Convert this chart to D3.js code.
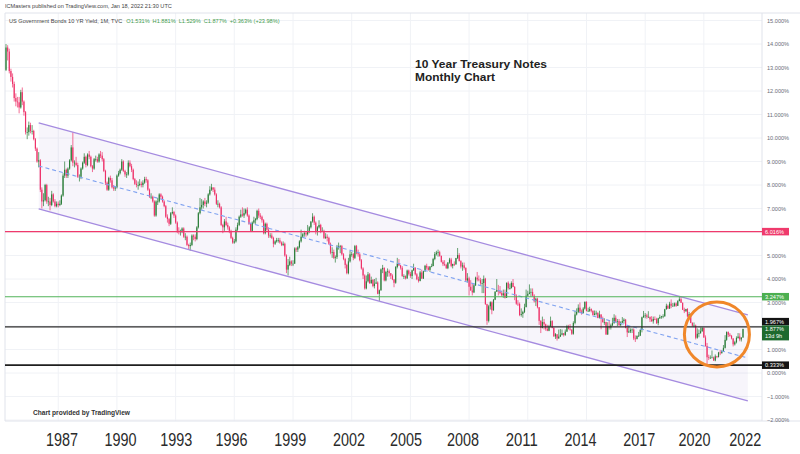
<!DOCTYPE html>
<html lang="en">
<head>
  <meta charset="UTF-8">
  <title>10 Year Treasury Notes - Monthly Chart</title>
  <script src="https://d3js.org/d3.v7.min.js"></script>
  <style>
    body { margin: 0; background: #fff; }
    svg { display: block; }
  </style>
</head>
<body>
  <svg id="chart"></svg>
  <script>
    // monthly bars of the 10Y yield, first bar = May 1984
    // open of each bar is taken as the previous close
    const startMonth = "1984-05";
    const firstOpen = 12.90;

    const closes = [
      /*1984*/ 13.85,13.68,12.85,12.60,12.30,11.70,11.55,11.52,
      /*1985*/ 11.30,11.95,11.55,11.10,10.25,10.25,10.55,10.30,10.30,9.95,9.55,9.00,
      /*1986*/ 9.05,7.80,7.30,7.35,8.00,7.30,7.30,7.15,7.60,7.30,7.10,7.20,
      /*1987*/ 7.15,7.20,7.55,8.40,8.65,8.40,8.70,9.05,9.60,8.95,8.95,8.85,
      /*1988*/ 8.35,8.35,8.70,8.95,9.20,8.85,9.30,9.20,8.80,8.70,9.10,9.10,
      /*1989*/ 9.00,9.30,9.25,9.10,8.60,8.10,7.80,8.30,8.20,7.90,7.85,7.90,
      /*1990*/ 8.40,8.50,8.65,9.00,8.60,8.45,8.45,8.95,8.80,8.65,8.25,8.05,
      /*1991*/ 8.00,8.00,8.05,8.00,8.10,8.25,8.20,7.80,7.50,7.50,7.30,6.70,
      /*1992*/ 7.30,7.30,7.60,7.50,7.30,7.10,6.65,6.55,6.35,6.80,6.85,6.70,
      /*1993*/ 6.40,6.05,6.00,6.05,6.15,5.80,5.80,5.45,5.40,5.45,5.85,5.80,
      /*1994*/ 5.70,6.20,6.80,7.05,7.15,7.30,7.20,7.25,7.60,7.80,7.90,7.80,
      /*1995*/ 7.60,7.20,7.20,7.05,6.30,6.20,6.45,6.30,6.20,6.05,5.75,5.55,
      /*1996*/ 5.60,6.10,6.30,6.65,6.75,6.70,6.80,6.95,6.70,6.35,6.05,6.40,
      /*1997*/ 6.50,6.55,6.90,6.70,6.65,6.50,5.95,6.35,6.10,5.85,5.85,5.75,
      /*1998*/ 5.50,5.60,5.65,5.65,5.55,5.45,5.50,5.00,4.40,4.60,4.75,4.65,
      /*1999*/ 4.65,5.30,5.25,5.35,5.60,5.80,5.90,5.95,5.90,6.05,6.20,6.45,
      /*2000*/ 6.65,6.40,6.00,6.20,6.30,6.05,6.05,5.75,5.80,5.75,5.50,5.12,
      /*2001*/ 5.15,4.90,4.93,5.35,5.40,5.40,5.05,4.85,4.60,4.25,4.75,5.05,
      /*2002*/ 5.05,4.90,5.40,5.10,5.05,4.80,4.45,4.15,3.60,3.90,4.20,3.82,
      /*2003*/ 3.96,3.70,3.80,3.85,3.37,3.52,4.41,4.47,3.94,4.30,4.33,4.25,
      /*2004*/ 4.14,3.98,3.84,4.51,4.65,4.58,4.48,4.12,4.12,4.03,4.36,4.22,
      /*2005*/ 4.13,4.37,4.48,4.20,3.99,3.92,4.28,4.02,4.33,4.56,4.49,4.39,
      /*2006*/ 4.53,4.55,4.85,5.06,5.12,5.14,4.98,4.73,4.63,4.60,4.46,4.70,
      /*2007*/ 4.83,4.56,4.64,4.63,4.89,5.02,4.76,4.53,4.58,4.47,3.94,4.03,
      /*2008*/ 3.67,3.51,3.43,3.73,4.06,3.98,3.95,3.82,3.83,4.01,2.93,2.22,
      /*2009*/ 2.84,3.01,2.67,3.12,3.46,3.53,3.48,3.40,3.31,3.39,3.20,3.84,
      /*2010*/ 3.61,3.61,3.83,3.66,3.29,2.95,2.94,2.47,2.51,2.60,2.80,3.29,
      /*2011*/ 3.37,3.42,3.45,3.29,3.05,3.16,2.80,2.22,1.92,2.17,2.07,1.88,
      /*2012*/ 1.80,1.98,2.21,1.92,1.56,1.65,1.47,1.55,1.63,1.69,1.62,1.76,
      /*2013*/ 1.99,1.88,1.85,1.67,2.13,2.49,2.60,2.78,2.61,2.55,2.74,3.03,
      /*2014*/ 2.64,2.65,2.72,2.65,2.47,2.53,2.56,2.34,2.49,2.33,2.16,2.17,
      /*2015*/ 1.64,1.99,1.93,2.03,2.12,2.35,2.18,2.21,2.04,2.14,2.21,2.27,
      /*2016*/ 1.92,1.73,1.77,1.83,1.85,1.47,1.45,1.58,1.59,1.83,2.37,2.44,
      /*2017*/ 2.45,2.39,2.39,2.28,2.20,2.30,2.29,2.12,2.33,2.38,2.41,2.41,
      /*2018*/ 2.71,2.86,2.74,2.95,2.86,2.86,2.96,2.86,3.06,3.14,2.99,2.69,
      /*2019*/ 2.63,2.72,2.41,2.51,2.13,2.01,2.02,1.50,1.67,1.69,1.78,1.92,
      /*2020*/ 1.51,1.15,0.67,0.64,0.65,0.66,0.53,0.71,0.68,0.87,0.84,0.92,
      /*2021*/ 1.07,1.41,1.74,1.63,1.58,1.47,1.22,1.31,1.49,1.55,1.43,1.51,
      /*2022*/ 1.877
    ];

    const highs = [
      /*1984*/ 14.00,13.95,13.80,12.95,12.75,12.40,11.90,11.75,
      /*1985*/ 11.75,12.05,12.15,11.60,11.15,10.45,10.70,10.65,10.55,10.35,10.00,9.60,
      /*1986*/ 9.40,9.10,7.90,7.65,8.05,8.05,7.50,7.45,7.75,7.65,7.40,7.30,
      /*1987*/ 7.30,7.35,7.60,8.50,9.00,8.70,8.75,9.10,9.70,10.25,9.05,9.20,
      /*1988*/ 8.95,8.45,8.75,9.00,9.35,9.25,9.35,9.45,9.25,8.85,9.15,9.25,
      /*1989*/ 9.20,9.35,9.45,9.40,9.15,8.65,8.15,8.35,8.40,8.30,8.00,7.95,
      /*1990*/ 8.45,8.60,8.70,9.10,9.05,8.65,8.55,9.05,9.05,8.90,8.70,8.30,
      /*1991*/ 8.20,8.15,8.25,8.15,8.20,8.35,8.35,8.25,7.85,7.65,7.55,7.35,
      /*1992*/ 7.35,7.45,7.65,7.65,7.55,7.35,7.15,6.75,6.60,6.85,7.05,6.90,
      /*1993*/ 6.75,6.45,6.20,6.10,6.20,6.20,5.95,5.85,5.50,5.55,5.90,5.90,
      /*1994*/ 5.90,6.25,6.85,7.45,7.40,7.35,7.45,7.35,7.65,7.95,8.05,7.90,
      /*1995*/ 7.90,7.65,7.35,7.25,7.10,6.35,6.55,6.65,6.40,6.25,6.10,5.80,
      /*1996*/ 5.70,6.20,6.40,6.70,6.95,7.05,7.00,7.00,7.05,6.75,6.40,6.45,
      /*1997*/ 6.65,6.60,6.95,7.00,6.80,6.70,6.55,6.40,6.40,6.20,5.95,5.95,
      /*1998*/ 5.80,5.65,5.75,5.75,5.75,5.60,5.60,5.55,5.05,4.85,4.95,4.80,
      /*1999*/ 4.80,5.35,5.35,5.40,5.65,6.10,5.95,6.05,6.00,6.30,6.25,6.45,
      /*2000*/ 6.80,6.70,6.45,6.25,6.50,6.35,6.20,6.10,5.95,5.90,5.80,5.55,
      /*2001*/ 5.35,5.25,5.00,5.45,5.55,5.45,5.45,5.10,4.90,4.65,4.90,5.20,
      /*2002*/ 5.15,5.10,5.45,5.45,5.25,5.10,4.85,4.50,4.20,4.15,4.30,4.25,
      /*2003*/ 4.10,4.00,4.00,4.05,3.90,3.55,4.45,4.60,4.50,4.35,4.45,4.40,
      /*2004*/ 4.25,4.20,4.00,4.55,4.90,4.85,4.60,4.55,4.20,4.15,4.40,4.40,
      /*2005*/ 4.30,4.40,4.65,4.50,4.25,4.10,4.35,4.40,4.35,4.60,4.65,4.55,
      /*2006*/ 4.55,4.65,4.90,5.15,5.20,5.25,5.20,5.00,4.80,4.80,4.65,4.72,
      /*2007*/ 4.90,4.90,4.65,4.75,4.90,5.32,5.10,4.80,4.70,4.70,4.50,4.25,
      /*2008*/ 4.10,3.95,3.80,3.80,4.10,4.30,4.15,4.05,4.00,4.15,4.05,2.95,
      /*2009*/ 2.90,3.05,3.05,3.15,3.48,4.00,3.75,3.70,3.50,3.55,3.55,3.85,
      /*2010*/ 3.90,3.80,3.90,4.00,3.70,3.35,3.10,3.00,2.75,2.65,2.95,3.55,
      /*2011*/ 3.50,3.77,3.60,3.60,3.35,3.20,3.20,2.80,2.25,2.40,2.30,2.10,
      /*2012*/ 2.05,2.05,2.40,2.25,1.95,1.70,1.65,1.85,1.87,1.85,1.70,1.85,
      /*2013*/ 2.05,2.05,2.08,1.85,2.20,2.65,2.75,2.92,3.00,2.70,2.80,3.04,
      /*2014*/ 3.05,2.78,2.82,2.75,2.66,2.66,2.65,2.58,2.65,2.50,2.40,2.33,
      /*2015*/ 2.18,2.16,2.25,2.10,2.35,2.50,2.45,2.30,2.30,2.20,2.38,2.33,
      /*2016*/ 2.30,2.00,2.00,1.90,1.90,1.90,1.60,1.60,1.75,1.87,2.40,2.64,
      /*2017*/ 2.55,2.52,2.63,2.40,2.42,2.40,2.41,2.35,2.35,2.48,2.43,2.50,
      /*2018*/ 2.73,2.95,2.91,3.03,3.13,2.98,3.00,3.00,3.10,3.25,3.24,3.00,
      /*2019*/ 2.78,2.73,2.76,2.60,2.54,2.16,2.15,2.06,1.90,1.85,1.94,1.95,
      /*2020*/ 1.94,1.60,1.28,0.78,0.75,0.96,0.70,0.79,0.73,0.90,0.98,0.97,
      /*2021*/ 1.19,1.61,1.77,1.77,1.70,1.62,1.48,1.37,1.56,1.70,1.69,1.52,
      /*2022*/ 1.881
    ];

    const lows = [
      /*1984*/ 12.85,13.30,12.75,12.40,12.15,11.55,11.35,11.30,
      /*1985*/ 11.05,11.25,11.40,10.95,10.15,9.95,10.10,10.20,10.15,9.90,9.45,8.95,
      /*1986*/ 8.75,7.70,7.00,7.10,7.30,7.20,7.10,6.92,7.10,7.25,7.05,7.05,
      /*1987*/ 7.05,7.10,7.15,7.50,8.30,8.30,8.30,8.65,9.00,8.80,8.75,8.80,
      /*1988*/ 8.30,8.15,8.25,8.65,8.90,8.75,8.80,9.10,8.75,8.55,8.65,9.00,
      /*1989*/ 8.95,8.95,9.15,9.00,8.55,8.00,7.75,7.75,8.10,7.85,7.75,7.75,
      /*1990*/ 7.85,8.35,8.45,8.60,8.55,8.35,8.30,8.40,8.75,8.55,8.20,8.00,
      /*1991*/ 7.90,7.80,7.95,7.90,7.90,8.05,8.10,7.75,7.45,7.40,7.25,6.65,
      /*1992*/ 6.65,7.15,7.25,7.40,7.25,7.05,6.60,6.40,6.25,6.30,6.75,6.60,
      /*1993*/ 6.35,5.95,5.90,5.85,5.95,5.75,5.65,5.40,5.25,5.20,5.40,5.65,
      /*1994*/ 5.60,5.65,6.15,6.75,6.95,7.00,7.10,7.05,7.20,7.55,7.75,7.70,
      /*1995*/ 7.55,7.15,7.05,7.00,6.25,5.95,6.05,6.25,6.10,5.95,5.70,5.50,
      /*1996*/ 5.50,5.55,6.05,6.25,6.60,6.65,6.60,6.75,6.65,6.30,6.00,6.00,
      /*1997*/ 6.35,6.35,6.50,6.60,6.55,6.40,5.90,5.90,6.05,5.75,5.75,5.70,
      /*1998*/ 5.35,5.45,5.55,5.55,5.50,5.40,5.40,4.95,4.25,4.15,4.55,4.55,
      /*1999*/ 4.55,4.65,5.15,5.15,5.30,5.55,5.75,5.80,5.80,5.85,5.95,6.15,
      /*2000*/ 6.40,6.30,5.90,5.85,6.15,5.95,6.00,5.70,5.70,5.60,5.45,5.05,
      /*2001*/ 4.90,4.85,4.70,4.85,5.25,5.10,5.00,4.80,4.45,4.20,4.20,4.70,
      /*2002*/ 4.95,4.80,4.85,5.05,4.95,4.75,4.40,4.00,3.55,3.56,3.85,3.80,
      /*2003*/ 3.80,3.65,3.60,3.80,3.35,3.07,3.50,4.25,3.90,3.90,4.10,4.10,
      /*2004*/ 4.00,3.95,3.65,3.80,4.45,4.55,4.40,4.10,4.00,3.98,4.00,4.15,
      /*2005*/ 4.05,4.00,4.35,4.15,3.95,3.85,3.90,4.00,4.00,4.30,4.40,4.35,
      /*2006*/ 4.30,4.50,4.55,4.80,5.00,4.95,4.95,4.70,4.55,4.55,4.43,4.42,
      /*2007*/ 4.65,4.50,4.45,4.55,4.60,4.85,4.75,4.45,4.35,4.40,3.90,3.85,
      /*2008*/ 3.30,3.50,3.30,3.40,3.70,3.90,3.90,3.75,3.40,3.40,2.90,2.05,
      /*2009*/ 2.15,2.70,2.50,2.65,3.10,3.45,3.30,3.35,3.25,3.20,3.17,3.20,
      /*2010*/ 3.55,3.55,3.60,3.65,3.10,2.90,2.85,2.42,2.40,2.35,2.55,2.80,
      /*2011*/ 3.25,3.35,3.25,3.25,3.00,2.85,2.75,2.05,1.70,1.90,1.85,1.80,
      /*2012*/ 1.78,1.78,1.95,1.90,1.54,1.45,1.38,1.46,1.53,1.60,1.55,1.58,
      /*2013*/ 1.75,1.85,1.80,1.62,1.63,2.07,2.45,2.55,2.55,2.48,2.53,2.70,
      /*2014*/ 2.62,2.60,2.60,2.58,2.44,2.45,2.45,2.33,2.32,1.86,2.15,2.05,
      /*2015*/ 1.62,1.62,1.85,1.85,2.00,2.10,2.15,2.00,2.00,1.99,2.13,2.10,
      /*2016*/ 1.90,1.53,1.70,1.70,1.70,1.40,1.32,1.43,1.53,1.57,1.73,2.35,
      /*2017*/ 2.33,2.31,2.35,2.17,2.18,2.10,2.25,2.09,2.03,2.30,2.31,2.33,
      /*2018*/ 2.40,2.70,2.73,2.73,2.76,2.82,2.82,2.81,2.85,3.05,2.98,2.68,
      /*2019*/ 2.55,2.60,2.37,2.40,2.12,1.97,1.95,1.43,1.46,1.52,1.68,1.75,
      /*2020*/ 1.50,1.12,0.34,0.55,0.60,0.63,0.52,0.50,0.63,0.66,0.76,0.83,
      /*2021*/ 0.90,1.04,1.37,1.53,1.54,1.43,1.13,1.17,1.26,1.46,1.35,1.34,
      /*2022*/ 1.50
    ];

    // price scale ticks (percent) and pasted year labels under the chart
    const yTicks = [15, 14, 13, 12, 11, 10, 9, 8, 7, 6, 5, 4, 3, 2, 1, 0, -1, -2];
    const xTickLabels = ["1987", "1990", "1993", "1996", "1999", "2002", "2005",
                         "2008", "2011", "2014", "2017", "2020", "2022"];
    const xTickDates = ["1987-03", "1990-03", "1993-01", "1995-11", "1998-11", "2001-11", "2004-10",
                        "2007-09", "2010-09", "2013-09", "2016-09", "2019-07", "2022-02"];

    // horizontal levels drawn by the author
    const levelValues = [6.016, 3.247, 1.967, 0.333];
    const currentPrice = 1.877;
    const countdown = "13d 9h";

    // regression channel
    const channelDates = ["1986-01", "2022-04"];
    const channelUpper = [10.64, 2.47];
    const channelLower = [6.98, -1.19];

    // orange circle around the 2020-2021 lows
    const circleMonth = "2020-09";
    const circleValue = 1.64;
    const circleMonths = 20;
    const circleRange = 1.38;

    const headerText = "ICMasters published on TradingView.com, Jan 18, 2022 21:30 UTC";
    const symbolText = "US Government Bonds 10 YR Yield, 1M, TVC";
    const ohlcText = ["O1.531%", "H1.881%", "L1.529%", "C1.877%", "+0.363% (+23.98%)"];
    const titleLines = ["10 Year Treasury Notes", "Monthly Chart"];
    const creditText = "Chart provided by TradingView";

    // ---------------------------------------------------------------
    const width = 800, height = 454;
    const pane = {left: 5, top: 13, right: 762, bottom: 421};
    const upColor = "#2a7d38", downColor = "#ee3068";
    const gridColor = "#f0f2f6", borderColor = "#e0e3eb";
    const font = "'Liberation Sans', Arial, sans-serif";

    const parseMonth = d3.timeParse("%Y-%m");
    const months = closes.map((c, i) => d3.timeMonth.offset(parseMonth(startMonth), i));
    const candles = closes.map((c, i) => ({
      date: months[i],
      open: i ? closes[i - 1] : firstOpen,
      high: highs[i],
      low: lows[i],
      close: c
    }));

    const x = d3.scaleTime()
      .domain(d3.extent(months))
      .range([6, 743]);

    const y = d3.scaleLinear()
      .domain([-2, 15.32])
      .range([pane.bottom - 1, pane.top]);

    const svg = d3.select('#chart')
      .attr('width', width)
      .attr('height', height)
      .style('font-family', font);

    svg.append('defs').append('clipPath').attr('id', 'pane')
      .append('rect')
      .attr('x', pane.left).attr('y', pane.top)
      .attr('width', pane.right - pane.left).attr('height', pane.bottom - pane.top);

    // grid
    const grid = svg.append('g');
    grid.selectAll('.hgrid')
      .data(yTicks.filter(d => y(d) > pane.top && y(d) < pane.bottom))
      .join('line')
      .attr('x1', pane.left).attr('x2', pane.right)
      .attr('y1', d => y(d)).attr('y2', d => y(d))
      .attr('stroke', gridColor);

    const gridYears = x.ticks(d3.timeYear.every(1)).filter(d => d.getFullYear() % 3 === 1);
    grid.selectAll('.vgrid')
      .data(gridYears)
      .join('line')
      .attr('x1', d => x(d)).attr('x2', d => x(d))
      .attr('y1', pane.top).attr('y2', pane.bottom)
      .attr('stroke', gridColor);

    // pane borders
    const borders = [
      [pane.left, pane.top, width, pane.top],
      [pane.left, pane.bottom, width, pane.bottom],
      [pane.left, pane.top, pane.left, pane.bottom],
      [pane.right, pane.top, pane.right, pane.bottom]
    ];
    svg.append('g').selectAll('line')
      .data(borders)
      .join('line')
      .attr('x1', d => d[0]).attr('y1', d => d[1])
      .attr('x2', d => d[2]).attr('y2', d => d[3])
      .attr('stroke', borderColor);

    const plot = svg.append('g').attr('clip-path', 'url(#pane)');

    // channel
    const channel = channelDates.map((d, i) => ({
      date: parseMonth(d),
      upper: channelUpper[i],
      lower: channelLower[i],
      mid: (channelUpper[i] + channelLower[i]) / 2
    }));

    plot.append('path')
      .datum(channel)
      .attr('d', d3.area().x(d => x(d.date)).y0(d => y(d.lower)).y1(d => y(d.upper)))
      .attr('fill', '#7e57c2')
      .attr('fill-opacity', 0.06);

    // candles
    const bodyW = 1.15;
    const candleG = plot.append('g');
    candleG.selectAll('line')
      .data(candles)
      .join('line')
      .attr('x1', d => x(d.date)).attr('x2', d => x(d.date))
      .attr('y1', d => y(d.high)).attr('y2', d => y(d.low))
      .attr('stroke', d => d.close >= d.open ? upColor : downColor)
      .attr('stroke-width', 0.7);

    candleG.selectAll('rect')
      .data(candles)
      .join('rect')
      .attr('x', d => x(d.date) - bodyW / 2)
      .attr('width', bodyW)
      .attr('y', d => y(Math.max(d.open, d.close)))
      .attr('height', d => Math.max(0.7, Math.abs(y(d.open) - y(d.close))))
      .attr('fill', d => d.close >= d.open ? upColor : downColor);

    // channel lines
    const lineOf = key => d3.line().x(d => x(d.date)).y(d => y(d[key]));
    ['upper', 'lower'].forEach(key => {
      plot.append('path')
        .datum(channel)
        .attr('d', lineOf(key))
        .attr('fill', 'none')
        .attr('stroke', '#a58be0')
        .attr('stroke-width', 1.3);
    });
    plot.append('path')
      .datum(channel)
      .attr('d', lineOf('mid'))
      .attr('fill', 'none')
      .attr('stroke', '#7fa2f0')
      .attr('stroke-width', 1.1)
      .attr('stroke-dasharray', '4,3');

    // horizontal levels
    const levelStyles = [
      {color: '#ef3a6c', width: 1.3},
      {color: '#52b35a', width: 1.1},
      {color: '#2b2b2b', width: 1.3},
      {color: '#1f1f1f', width: 1.7}
    ];
    plot.selectAll('.level')
      .data(levelValues)
      .join('line')
      .attr('x1', pane.left).attr('x2', pane.right)
      .attr('y1', d => y(d)).attr('y2', d => y(d))
      .attr('stroke', (d, i) => levelStyles[i].color)
      .attr('stroke-width', (d, i) => levelStyles[i].width);

    // circle annotation
    const cx = x(parseMonth(circleMonth));
    const cy = y(circleValue);
    svg.append('ellipse')
      .attr('cx', cx)
      .attr('cy', cy)
      .attr('rx', x(d3.timeMonth.offset(parseMonth(circleMonth), circleMonths)) - cx)
      .attr('ry', y(circleValue - circleRange) - cy)
      .attr('fill', 'none')
      .attr('stroke', '#f0872a')
      .attr('stroke-width', 3);

    // price labels on the scale (placed first so colliding ticks can be hidden)
    const boxW = 27, boxH = 7.5, curH = 15;
    const curTop = y(currentPrice) - 3.5;
    const levelLabelY = levelValues.map(v => v === 1.967 ? curTop - boxH / 2 : y(v));
    const levelBoxColors = ['#ef3a6c', '#4caf50', '#131313', '#131313'];

    const hidden = t => {
      const ty = y(t);
      const nearBox = levelLabelY.some(ly => Math.abs(ty - ly) < boxH / 2 + 2);
      const inCurrent = ty > curTop - 2 && ty < curTop + curH + 2;
      return nearBox || inCurrent;
    };

    // price scale
    const yAxis = d3.axisRight(y)
      .tickValues(yTicks.filter(t => !hidden(t)))
      .tickSize(0)
      .tickPadding(5)
      .tickFormat(d => d3.format('.3f')(d) + '%');
    const yAxisG = svg.append('g')
      .attr('transform', `translate(${pane.right}, 0)`)
      .call(yAxis);
    yAxisG.select('.domain').remove();
    yAxisG.selectAll('text')
      .attr('font-size', 5.6)
      .attr('font-family', font)
      .attr('fill', '#6a6d78');

    const labelG = svg.append('g').attr('font-size', 5.6).attr('fill', '#fff');
    levelValues.forEach((v, i) => {
      labelG.append('rect')
        .attr('x', pane.right).attr('y', levelLabelY[i] - boxH / 2)
        .attr('width', boxW).attr('height', boxH)
        .attr('fill', levelBoxColors[i]);
      labelG.append('text')
        .attr('x', pane.right + 3).attr('y', levelLabelY[i] + 2)
        .text(d3.format('.3f')(v) + '%');
    });

    labelG.append('rect')
      .attr('x', pane.right).attr('y', curTop)
      .attr('width', boxW).attr('height', curH)
      .attr('fill', '#1d6a2e');
    labelG.append('text')
      .attr('x', pane.right + 3).attr('y', curTop + 5.8)
      .text(d3.format('.3f')(currentPrice) + '%');
    labelG.append('text')
      .attr('x', pane.right + 3).attr('y', curTop + 12.5)
      .text(countdown);

    // year labels pasted below the chart, squeezed to the pasted width
    const xAxis = d3.axisBottom(x)
      .tickValues(xTickDates.map(parseMonth))
      .tickFormat((d, i) => xTickLabels[i])
      .tickSize(0)
      .tickPadding(13);
    const xAxisG = svg.append('g')
      .attr('transform', `translate(0, ${pane.bottom})`)
      .call(xAxis);
    xAxisG.select('.domain').remove();
    xAxisG.selectAll('text')
      .attr('font-size', 17.5)
      .attr('font-family', font)
      .attr('fill', '#2a2a2a')
      .attr('textLength', 32)
      .attr('lengthAdjust', 'spacingAndGlyphs');

    // header
    svg.append('text')
      .attr('x', 5).attr('y', 8)
      .attr('font-size', 5.6).attr('fill', '#444')
      .text(headerText);

    const legend = svg.append('text')
      .attr('x', 9).attr('y', 23)
      .attr('font-size', 5.6).attr('fill', '#444');
    legend.append('tspan').text(symbolText);
    ohlcText.forEach((t, i) => {
      legend.append('tspan')
        .attr('dx', i === 0 ? 4 : 3)
        .attr('fill', '#3f9a4c')
        .text(t);
    });

    // title, one text per line, stretched to the widths seen in the picture
    const titleWidths = [132, 80];
    titleLines.forEach((t, i) => {
      svg.append('text')
        .attr('x', 415).attr('y', 68 + i * 12.5)
        .attr('font-weight', 700)
        .attr('font-size', 10.8)
        .attr('fill', '#222')
        .attr('textLength', titleWidths[i])
        .attr('lengthAdjust', 'spacingAndGlyphs')
        .text(t);
    });

    svg.append('text')
      .attr('x', 33).attr('y', 415)
      .attr('font-weight', 700)
      .attr('font-size', 6.6)
      .attr('fill', '#333')
      .text(creditText);
  </script>
</body>
</html>
